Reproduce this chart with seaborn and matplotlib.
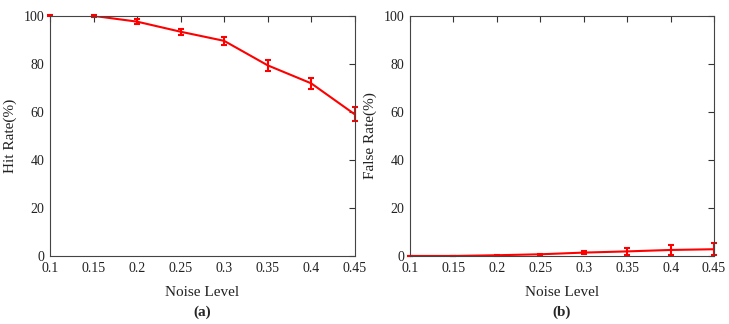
import numpy as np
import pandas as pd
import matplotlib
matplotlib.use("Agg")
import matplotlib.pyplot as plt
import seaborn as sns

noise = [0.1, 0.15, 0.2, 0.25, 0.3, 0.35, 0.4, 0.45]
hit_rate = [100, 100, 97.6, 93.4, 89.6, 79.4, 71.9, 59.0]
hit_err = [0.2, 0.3, 1.0, 1.2, 1.6, 2.2, 2.4, 2.9]
false_rate = [0.0, 0.0, 0.3, 0.7, 1.4, 1.9, 2.5, 2.8]
false_err = [0.0, 0.1, 0.2, 0.3, 0.6, 1.5, 2.2, 2.4]
xticks = [0.1, 0.15, 0.2, 0.25, 0.3, 0.35, 0.4, 0.45]
xticklabels = ["0.1", "0.15", "0.2", "0.25", "0.3", "0.35", "0.4", "0.45"]
yticks = [0, 20, 40, 60, 80, 100]

sns.set_theme(style="white")
plt.rcParams['font.family'] = ['Liberation Serif', 'DejaVu Serif']
plt.rcParams['xtick.direction'] = 'in'
plt.rcParams['ytick.direction'] = 'in'

fig = plt.figure(figsize=(7.29, 3.24), dpi=100)
ax1 = fig.add_axes([0.0686, 0.21, 0.418, 0.741])
ax2 = fig.add_axes([0.5625, 0.21, 0.417, 0.741])

panels = [
    (ax1, hit_rate, hit_err, "Hit Rate(%)", "(a)"),
    (ax2, false_rate, false_err, "False Rate(%)", "(b)"),
]
for ax, vals, errs, ylab, cap in panels:
    df = pd.DataFrame({"noise": noise, "val": vals})
    sns.lineplot(data=df, x="noise", y="val", ax=ax, color="#ff0000", linewidth=1.5)
    ax.errorbar(noise, vals, yerr=errs, fmt="none", ecolor="#ff0000",
                elinewidth=1.5, capsize=2.5, capthick=1.5, clip_on=False)
    ax.set_xlim(0.1, 0.45)
    ax.set_ylim(0, 100)
    ax.set_xticks(xticks)
    ax.set_xticklabels(xticklabels)
    ax.set_yticks(yticks)
    ax.tick_params(axis="both", which="both", direction="in", top=True, right=True,
                   length=4, width=0.8, color="#333333", labelsize=10, pad=4,
                   labelcolor="#222222")
    for s in ax.spines.values():
        s.set_color("#444444")
        s.set_linewidth(0.8)
    ax.set_xlabel("Noise Level", fontsize=11, color="#222222", labelpad=8)
    ax.set_ylabel(ylab, fontsize=11, color="#222222", labelpad=5)
    ax.text(0.5, -0.205, cap, transform=ax.transAxes, ha="center", va="top",
            fontsize=11, fontweight="bold")

fig.savefig("out.png", dpi=100)
